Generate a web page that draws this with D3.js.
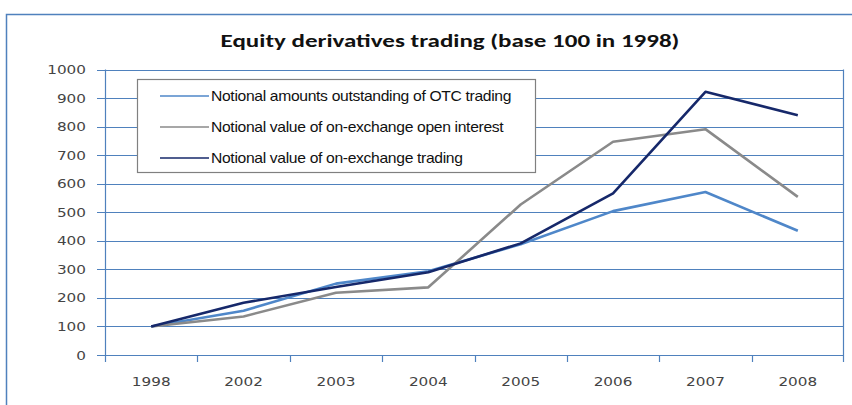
<!DOCTYPE html>
<html>
<head>
<meta charset="utf-8">
<script src="https://cdn.jsdelivr.net/npm/d3@7"></script>
<style>
body { margin: 0; background: #fff; }
svg { display: block; }
</style>
</head>
<body>
<svg width="852" height="405"></svg>
<script>
const years = ["1998", "2002", "2003", "2004", "2005", "2006", "2007", "2008"];
const otcAmounts = [100, 155, 250, 293, 388, 504, 571, 435];
const openInterest = [100, 135, 218, 237, 527, 747, 791, 554];
const exchangeTrading = [100, 183, 238, 290, 391, 566, 922, 840];
const seriesNames = [
    "Notional amounts outstanding of OTC trading",
    "Notional value of on-exchange open interest",
    "Notional value of on-exchange trading"
];
const yTicks = [0, 100, 200, 300, 400, 500, 600, 700, 800, 900, 1000];

const blue = "#4f81bd";
const series = [
    {name: seriesNames[0], values: otcAmounts, color: "#4f87c9"},
    {name: seriesNames[1], values: openInterest, color: "#8a8a8a"},
    {name: seriesNames[2], values: exchangeTrading, color: "#16286a"}
];

// the original picture is stretched sideways, so text gets a wider x scale
const stretch = 1.22;

const svg = d3.select("svg");
const plot = {left: 105, right: 844, top: 69.5, bottom: 355};

// outer frame
svg.append("path")
    .attr("d", "M6.5,405 V14.5 H852")
    .attr("fill", "none")
    .attr("stroke", blue)
    .attr("stroke-width", 1.5);

svg.append("text")
    .attr("transform", "translate(450,47) scale(1.33,1)")
    .attr("text-anchor", "middle")
    .style("font-family", "Carlito, 'Open Sans', sans-serif")
    .style("font-weight", "bold")
    .style("font-size", "18.8px")
    .attr("fill", "#111")
    .text("Equity derivatives trading (base 100 in 1998)");

const x = d3.scaleBand().domain(years).range([plot.left, plot.right]);
const y = d3.scaleLinear().domain([0, 1000]).range([plot.bottom, plot.top]);

// gridlines
svg.append("g")
    .selectAll("line")
    .data(yTicks)
    .join("line")
    .attr("x1", plot.left - 8)
    .attr("x2", plot.right)
    .attr("y1", d => Math.round(y(d)) + 0.5)
    .attr("y2", d => Math.round(y(d)) + 0.5)
    .attr("stroke", blue)
    .attr("stroke-width", 1.2);

// y axis labels
svg.append("g")
    .selectAll("text")
    .data(yTicks)
    .join("text")
    .attr("transform", d => "translate(86," + y(d) + ") scale(" + stretch + ",1)")
    .attr("dy", "0.36em")
    .attr("text-anchor", "end")
    .style("font-family", "'DejaVu Sans', sans-serif")
    .style("font-size", "12.5px")
    .attr("fill", "#444")
    .text(d => d);

// axis lines
svg.append("line")
    .attr("x1", plot.left + 0.5).attr("x2", plot.left + 0.5)
    .attr("y1", plot.top).attr("y2", plot.bottom + 7)
    .attr("stroke", blue).attr("stroke-width", 1.2);
svg.append("line")
    .attr("x1", plot.right - 0.5).attr("x2", plot.right - 0.5)
    .attr("y1", plot.top).attr("y2", plot.bottom + 7)
    .attr("stroke", blue).attr("stroke-width", 1.2);

// x ticks
svg.append("g")
    .selectAll("line")
    .data(years.slice(1))
    .join("line")
    .attr("x1", d => Math.round(x(d)) + 0.5)
    .attr("x2", d => Math.round(x(d)) + 0.5)
    .attr("y1", plot.bottom)
    .attr("y2", plot.bottom + 7)
    .attr("stroke", blue)
    .attr("stroke-width", 1.2);

svg.append("g")
    .selectAll("text")
    .data(years)
    .join("text")
    .attr("transform", d => "translate(" + (x(d) + x.bandwidth() / 2) + ",386) scale(" + stretch + ",1)")
    .attr("text-anchor", "middle")
    .style("font-family", "'DejaVu Sans', sans-serif")
    .style("font-size", "12.5px")
    .attr("fill", "#444")
    .text(d => d);

// legend box
const lg = svg.append("g");
lg.append("rect")
    .attr("x", 137.5).attr("y", 79.5)
    .attr("width", 398).attr("height", 93)
    .attr("fill", "#fff")
    .attr("stroke", "#808080")
    .attr("stroke-width", 1.2);
series.forEach((s, i) => {
    const yy = 96 + i * 31;
    lg.append("line")
        .attr("x1", 160).attr("x2", 209)
        .attr("y1", yy).attr("y2", yy)
        .attr("stroke", s.color).attr("stroke-width", 1.5);
    lg.append("text")
        .attr("transform", "translate(211," + yy + ") scale(1.12,1)")
        .attr("dy", "0.36em")
        .style("font-family", "'Liberation Sans', Arial, sans-serif")
        .style("font-size", "14px")
        .style("letter-spacing", "-0.3px")
        .attr("fill", "#111")
        .text(s.name);
});

const line = d3.line()
    .x((d, i) => x(years[i]) + x.bandwidth() / 2)
    .y(d => y(d));

svg.append("g")
    .selectAll("path")
    .data(series)
    .join("path")
    .attr("d", d => line(d.values))
    .attr("fill", "none")
    .attr("stroke", d => d.color)
    .attr("stroke-width", 2.6)
    .attr("stroke-linejoin", "round");
</script>
</body>
</html>
